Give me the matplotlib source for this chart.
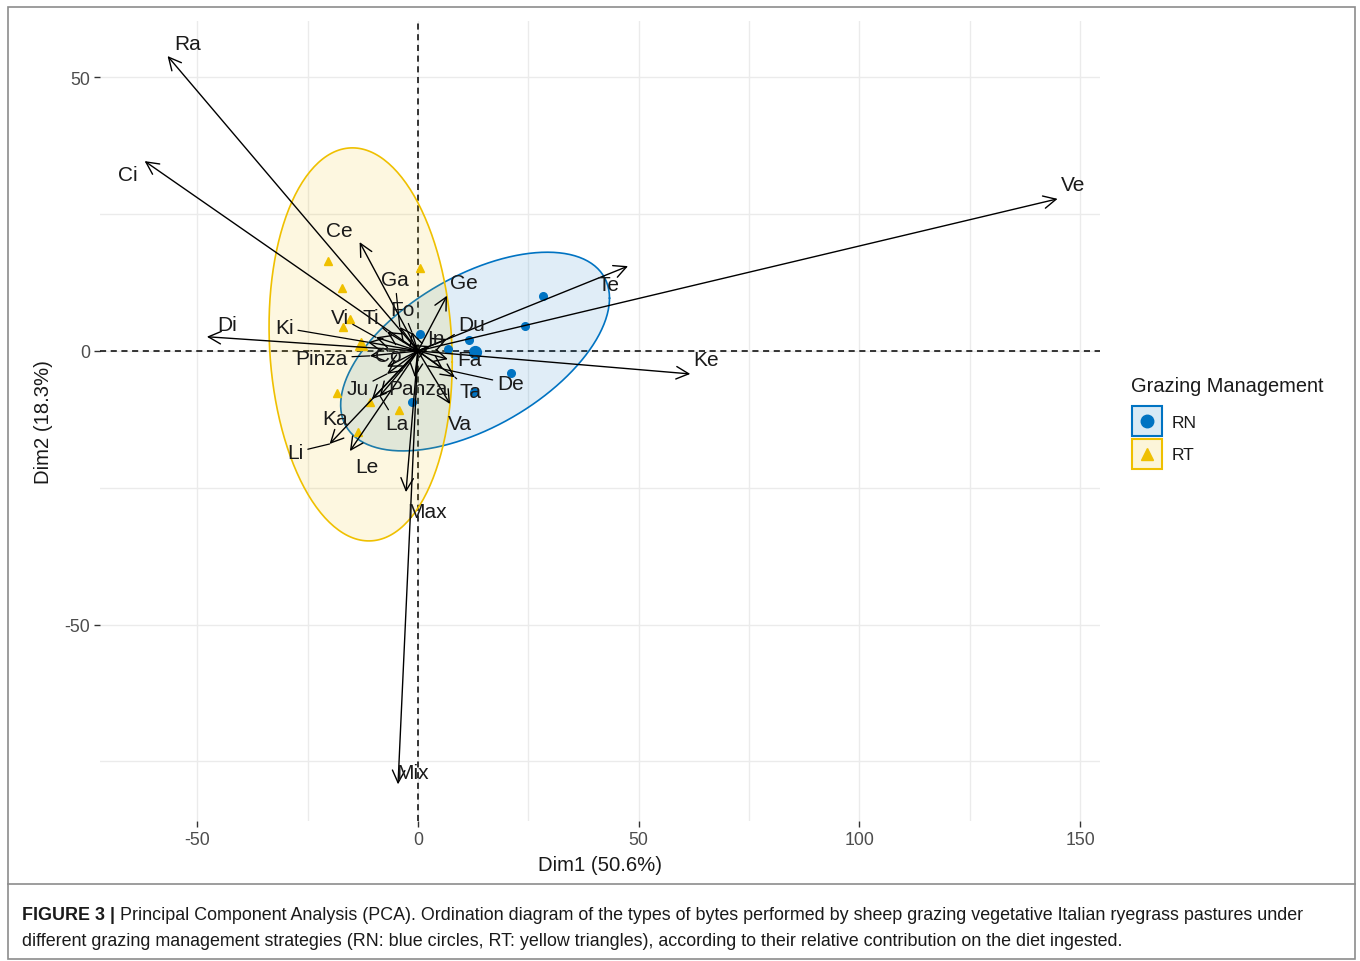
import numpy as np
import matplotlib

matplotlib.use("Agg")
import matplotlib.pyplot as plt
from matplotlib.lines import Line2D
from matplotlib.patches import Rectangle

plt.rcParams["font.family"] = ["Liberation Sans", "DejaVu Sans"]
plt.rcParams["axes.unicode_minus"] = False

# variable arrows (bite types): tip coordinates and label placement
variables = ["Ra", "Ci", "Ve", "Te", "Ke", "Di", "Ce", "Ge", "Ga", "Fo", "Vi", "Ti",
             "Ki", "In", "Du", "Pinza", "Co", "Fa", "De", "Ta", "Panza", "Ju", "Va",
             "Ka", "La", "Li", "Le", "Max", "Mix"]
var_x = [-56.7, -61.9, 144.9, 47.6, 61.7, -47.8, -13.2, 6.6, -4.1, -1.4, -9.5, -7.0,
         -11.3, 2.7, 6.6, -10.9, -7.0, 6.8, 5.7, 8.4, -0.7, -7.0, 7.3,
         -10.4, -8.6, -20.0, -15.4, -2.7, -4.5]
var_y = [53.9, 34.7, 27.8, 15.5, -4.2, 2.6, 19.9, 10.1, 4.4, 3.5, 2.5, 3.5,
         1.6, 0.9, 2.2, -0.9, -2.9, -1.5, -3.3, -4.8, -4.8, -4.2, -9.7,
         -8.8, -8.2, -17.0, -18.3, -25.8, -79.2]
label_x = [-52.2, -65.8, 148.5, 43.1, 65.3, -43.3, -17.7, 10.4, -5.2, -3.4, -17.7, -10.7,
           -30.2, 4.1, 12.2, -21.8, -6.8, 11.6, 20.9, 12.0, 0.0, -13.6, 9.5,
           -18.8, -4.8, -27.7, -11.6, 2.0, -1.1]
label_y = [56.1, 32.2, 30.5, 12.2, -1.5, 4.8, 22.1, 12.6, 13.0, 7.5, 6.2, 6.2,
           4.2, 2.2, 4.9, -1.3, -0.9, -1.5, -6.0, -7.5, -6.8, -6.9, -13.2,
           -12.4, -13.2, -18.5, -21.2, -29.4, -77.0]
leader_lines = ["Ga", "Fo", "Vi", "Ti", "Ki", "Pinza", "Du", "De", "Ta", "Ju", "La", "Li"]

# individuals by grazing management
rn_x = [28.3, 24.3, 11.6, 6.8, 12.7, 21.1, 12.7, -1.4, 0.5]
rn_y = [10.1, 4.6, 2.0, 0.4, -0.4, -4.0, -7.5, -9.3, 3.1]
rt_x = [-20.4, -17.2, 0.5, -17.0, -15.4, -18.4, -10.9, -4.3, -13.6]
rt_y = [16.5, 11.5, 15.2, 4.4, 5.8, -7.7, -9.3, -10.8, -14.8]

groups = ["RN", "RT"]
group_colors = {"RN": "#0073C2", "RT": "#EFC000"}
group_markers = {"RN": "o", "RT": "^"}
group_points = {"RN": (rn_x, rn_y), "RT": (rt_x, rt_y)}


def norm_ellipse(x, y, level=0.95, segments=240):
    pts = np.column_stack([x, y])
    m = len(pts) - 1
    centre = pts.mean(axis=0)
    cov = np.cov(pts, rowvar=False)
    # F(2, m) quantile has a closed form
    fq = (m / 2) * ((1 - level) ** (-2 / m) - 1)
    radius = np.sqrt(2 * fq)
    chol = np.linalg.cholesky(cov)
    t = np.linspace(0, 2 * np.pi, segments)
    circle = np.column_stack([np.cos(t), np.sin(t)])
    return centre + radius * circle @ chol.T


W, H = 1360, 962
fig = plt.figure(figsize=(W / 100, H / 100), dpi=100)
ax = fig.add_axes([100 / W, 1 - 822 / H, 1000 / W, 800 / H])

ax.set_xticks([-50, 0, 50, 100, 150])
ax.set_yticks([-50, 0, 50])
ax.set_xticks([-25, 25, 75, 125], minor=True)
ax.set_yticks([-75, -25, 25], minor=True)
ax.set_xlim(-72.0, 154.5)
ax.set_ylim(-85.9, 60.3)
ax.grid(True, which="major", color="#EBEBEB", lw=1.0, zorder=0)
ax.grid(True, which="minor", color="#EBEBEB", lw=1.0, zorder=0)
ax.tick_params(which="major", length=4, width=1, color="#333333",
               labelcolor="#4D4D4D", labelsize=12.8, pad=3)
ax.tick_params(which="minor", length=0)
for s in ax.spines.values():
    s.set_visible(False)
ax.set_axisbelow(True)

ax.axhline(0, color="black", lw=1.1, ls=(0, (4, 3)), zorder=1)
ax.axvline(0, color="black", lw=1.1, ls=(0, (4, 3)), zorder=1)

for g in groups:
    gx, gy = group_points[g]
    ell = norm_ellipse(gx, gy)
    ax.fill(ell[:, 0], ell[:, 1], facecolor=group_colors[g], alpha=0.12, zorder=2)
    ax.plot(ell[:, 0], ell[:, 1], color=group_colors[g], lw=1.2, zorder=2)

for g in groups:
    gx, gy = group_points[g]
    ax.plot(gx, gy, ls="none", marker=group_markers[g], ms=5.5,
            color=group_colors[g], zorder=3)
    ax.plot(np.mean(gx), np.mean(gy), ls="none", marker=group_markers[g], ms=8.5,
            color=group_colors[g], zorder=3)

for name, tx, ty, lx, ly in zip(variables, var_x, var_y, label_x, label_y):
    ax.annotate("", xy=(tx, ty), xytext=(0, 0),
                arrowprops=dict(arrowstyle="->,head_length=0.5,head_width=0.25",
                                color="black", lw=1.0, shrinkA=0, shrinkB=0,
                                mutation_scale=18),
                zorder=4)
    if name in leader_lines:
        ax.annotate(name, xy=(tx, ty), xytext=(lx, ly), ha="center", va="center",
                    fontsize=15, color="#1A1A1A",
                    arrowprops=dict(arrowstyle="-", color="black", lw=0.9,
                                    shrinkA=1, shrinkB=0),
                    zorder=5)
    else:
        ax.text(lx, ly, name, ha="center", va="center", fontsize=15,
                color="#1A1A1A", zorder=5)

ax.set_xlabel("Dim1 (50.6%)", fontsize=14.6, color="#1A1A1A", labelpad=5)
ax.set_ylabel("Dim2 (18.3%)", fontsize=14.6, color="#1A1A1A", labelpad=8)

# legend, drawn as figure artists
fig.text(1131 / W, 1 - 387 / H, "Grazing Management", fontsize=14.4,
         va="center", ha="left", color="#1A1A1A")
for i, g in enumerate(groups):
    top = 407 + 33 * i
    fig.add_artist(Rectangle((1132 / W, 1 - (top + 30) / H), 30 / W, 30 / H,
                             transform=fig.transFigure, facecolor=group_colors[g],
                             alpha=0.15, edgecolor="none"))
    fig.add_artist(Rectangle((1132 / W, 1 - (top + 30) / H), 30 / W, 30 / H,
                             transform=fig.transFigure, facecolor="none",
                             edgecolor=group_colors[g], lw=1.5))
    fig.add_artist(Line2D([1147 / W], [1 - (top + 15) / H], transform=fig.transFigure,
                          ls="none", marker=group_markers[g], ms=9,
                          color=group_colors[g]))
    fig.text(1172 / W, 1 - (top + 16) / H, g, fontsize=12.5, va="center",
             ha="left", color="#1A1A1A")

# figure frame and caption
fig.add_artist(Rectangle((8 / W, 1 - 960 / H), 1347 / W, 952 / H, transform=fig.transFigure,
                         fill=False, edgecolor="#8C8C8C", lw=1.2))
fig.add_artist(Line2D([8 / W, 1355 / W], [1 - 885 / H, 1 - 885 / H],
                      transform=fig.transFigure, color="#8C8C8C", lw=1.2))

cap_size = 12.9
bold = fig.text(22 / W, 1 - 916 / H, "FIGURE 3 |", fontsize=cap_size, weight="bold",
                va="center", ha="left", color="#1A1A1A")
fig.canvas.draw()
bb = bold.get_window_extent()
fig.text((bb.x1 + 5) / W, 1 - 916 / H,
         "Principal Component Analysis (PCA). Ordination diagram of the types of bytes "
         "performed by sheep grazing vegetative Italian ryegrass pastures under",
         fontsize=cap_size, va="center", ha="left", color="#1A1A1A")
fig.text(22 / W, 1 - 942 / H,
         "different grazing management strategies (RN: blue circles, RT: yellow triangles), "
         "according to their relative contribution on the diet ingested.",
         fontsize=cap_size, va="center", ha="left", color="#1A1A1A")

fig.savefig("out.png", dpi=100)
